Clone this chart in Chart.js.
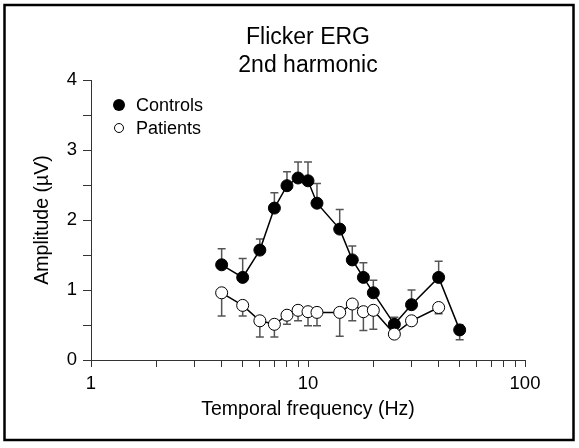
<!DOCTYPE html>
<html>
<head>
<meta charset="utf-8">
<script src="https://cdn.jsdelivr.net/npm/chart.js@4"></script>
<style>
  html, body { margin: 0; padding: 0; background: #fff; }
  #wrap { width: 579px; height: 448px; position: relative; }
</style>
</head>
<body>
<div id="wrap"><canvas id="erg"></canvas></div>
<script>
// data
const titleLines = ['Flicker ERG', '2nd harmonic'];
const xTitle = 'Temporal frequency (Hz)';
const yTitle = 'Amplitude (µV)';

const controlsFreq = [4, 5, 6, 7, 8, 9, 10, 11, 14, 16, 18, 20, 25, 30, 40, 50];
const controlsAmp  = [1.36, 1.18, 1.57, 2.17, 2.49, 2.60, 2.56, 2.24, 1.87, 1.43, 1.18, 0.96, 0.51, 0.79, 1.18, 0.43];
const controlsHigh = [1.59, 1.45, 1.73, 2.39, 2.69, 2.83, 2.83, 2.52, 2.15, 1.63, 1.39, 1.14, 0.61, 1.00, 1.41, 0.50];
const controlsLow  = [null, null, null, null, null, null, null, null, null, null, null, null, null, null, null, 0.29];

const patientsFreq = [4, 5, 6, 7, 8, 9, 10, 11, 14, 16, 18, 20, 25, 30, 40];
const patientsAmp  = [0.96, 0.78, 0.56, 0.51, 0.64, 0.71, 0.69, 0.68, 0.68, 0.80, 0.69, 0.71, 0.37, 0.56, 0.75];
const patientsLow  = [0.63, 0.63, 0.33, 0.33, 0.51, 0.56, 0.49, 0.49, 0.34, 0.56, 0.42, 0.44, 0.33, null, 0.66];

const xTicks = [1, 2, 3, 4, 5, 6, 7, 8, 9, 10, 20, 30, 40, 50, 60, 70, 80, 90, 100];
const xTickLabels = [1, 10, 100];
const yTickLabels = [0, 1, 2, 3, 4];

const FONT = '"Liberation Sans", Arial, Helvetica, sans-serif';

function toPoints(xs, ys) {
    return xs.map((x, i) => ({ x: x, y: ys[i] }));
}

// error bars, drawn under the markers
const errorBars = {
    id: 'errorBars',
    beforeDatasetsDraw(chart) {
        const { ctx, scales } = chart;
        const xs = scales.x, ys = scales.y;
        const bars = [
            [controlsFreq, controlsAmp, controlsHigh],
            [controlsFreq, controlsAmp, controlsLow],
            [patientsFreq, patientsAmp, patientsLow]
        ];
        ctx.save();
        ctx.strokeStyle = '#555';
        ctx.lineWidth = 1.5;
        bars.forEach(([fx, amp, end]) => {
            fx.forEach((f, i) => {
                if (end[i] == null) return;
                const px = xs.getPixelForValue(f);
                const p0 = ys.getPixelForValue(amp[i]);
                const p1 = ys.getPixelForValue(end[i]);
                ctx.beginPath();
                ctx.moveTo(px, p0);
                ctx.lineTo(px, p1);
                ctx.moveTo(px - 4, p1);
                ctx.lineTo(px + 4, p1);
                ctx.stroke();
            });
        });
        ctx.restore();
    }
};

// title, legend and the frame round the figure
const decorations = {
    id: 'decorations',
    afterDraw(chart) {
        const { ctx, chartArea } = chart;
        const cx = (chartArea.left + chartArea.right) / 2;
        ctx.save();
        ctx.fillStyle = '#000';
        ctx.textAlign = 'center';
        ctx.textBaseline = 'alphabetic';
        ctx.font = '23px ' + FONT;
        ctx.fillText(titleLines[0], cx, 44);
        ctx.fillText(titleLines[1], cx, 72);

        // legend
        ctx.textAlign = 'left';
        ctx.font = '18px ' + FONT;
        ctx.beginPath();
        ctx.arc(119, 105, 6, 0, Math.PI * 2);
        ctx.fill();
        ctx.fillText('Controls', 136, 111);
        ctx.beginPath();
        ctx.arc(119, 128, 4.5, 0, Math.PI * 2);
        ctx.lineWidth = 1;
        ctx.strokeStyle = '#000';
        ctx.stroke();
        ctx.fillText('Patients', 136, 134);

        ctx.lineWidth = 2.5;
        ctx.strokeRect(4.5, 5, 569, 435);
        ctx.restore();
    }
};

const ctx = document.getElementById('erg').getContext('2d');
new Chart(ctx, {
    type: 'line',
    data: {
        datasets: [
            {
                label: 'Patients',
                data: toPoints(patientsFreq, patientsAmp),
                borderColor: '#000',
                borderWidth: 1.5,
                pointRadius: 6,
                pointBorderWidth: 1,
                pointBackgroundColor: '#fff',
                pointBorderColor: '#000',
                order: 0
            },
            {
                label: 'Controls',
                data: toPoints(controlsFreq, controlsAmp),
                borderColor: '#000',
                borderWidth: 1.5,
                pointRadius: 6,
                pointBorderWidth: 1,
                pointBackgroundColor: '#000',
                pointBorderColor: '#000',
                order: 1
            }
        ]
    },
    options: {
        responsive: true,
        maintainAspectRatio: false,
        animation: false,
        layout: { padding: { top: 80, right: 54, bottom: 0, left: 0 } },
        plugins: {
            legend: { display: false },
            title: { display: false },
            tooltip: { enabled: false }
        },
        scales: {
            x: {
                type: 'logarithmic',
                min: 1,
                max: 100,
                afterBuildTicks: (scale) => {
                    scale.ticks = xTicks.map(v => ({ value: v }));
                },
                afterFit: (scale) => { scale.height = 88; },
                grid: { drawOnChartArea: false, tickLength: 7, color: '#333', tickWidth: 1 },
                border: { color: '#333', width: 1 },
                ticks: {
                    autoSkip: false,
                    maxRotation: 0,
                    padding: 6,
                    color: '#000',
                    font: { family: FONT, size: 18.5 },
                    callback: (v) => xTickLabels.includes(v) ? String(v) : ''
                },
                title: {
                    display: true,
                    text: xTitle,
                    color: '#000',
                    font: { family: FONT, size: 19.5 },
                    padding: { top: 0, bottom: 27 }
                }
            },
            y: {
                min: 0,
                max: 4,
                afterFit: (scale) => { scale.width = 91; },
                grid: { drawOnChartArea: false, tickLength: 8, color: '#333', tickWidth: 1 },
                border: { color: '#333', width: 1 },
                ticks: {
                    stepSize: 0.5,
                    padding: 6,
                    color: '#000',
                    font: { family: FONT, size: 18.5 },
                    callback: (v) => yTickLabels.includes(v) ? String(v) : ''
                },
                title: {
                    display: true,
                    text: yTitle,
                    color: '#000',
                    font: { family: FONT, size: 19.5 },
                    padding: { top: 31, bottom: 0 }
                }
            }
        }
    },
    plugins: [errorBars, decorations]
});
</script>
</body>
</html>
